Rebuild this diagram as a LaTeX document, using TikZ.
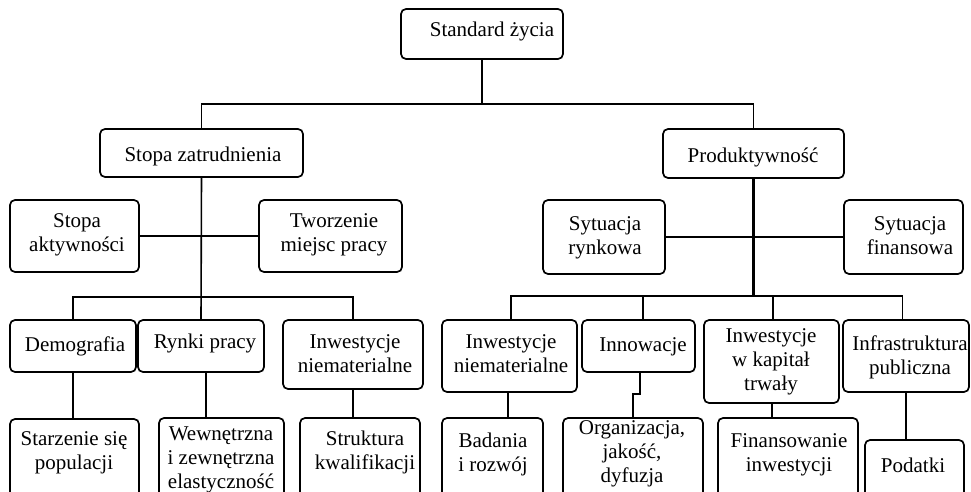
\documentclass[tikz,border=0pt]{standalone}
\usepackage{fontspec}
\setmainfont{Liberation Serif}
\newcommand\bx[8]{%
  \node[box, minimum width={(#4-#2)*1pt}, minimum height={(#5-#3)*1pt}] (#1) at ({(#2+#4)/2},{(#3+#5)/2}) {};
  \node[txt] (#1t) at (#6,#7) {#8};}
\tikzset{
  box/.style={draw, rounded corners=5pt, line width=1.7pt, inner sep=0pt, outer sep=0pt, fill=white},
  txt/.style={font=\fontsize{21}{24}\selectfont, align=center, inner sep=0pt,
    execute at begin node=\strut, execute at end node=\strut},
  conn/.style={line width=1.6pt},
}
\begin{document}
\begin{tikzpicture}[x=1pt,y=-1pt]
\useasboundingbox (0,0) rectangle (971,492);
\clip (0,0) rectangle (971,492);
% boxes
\bx{std}{401}{9}{563}{59}{492}{32.2}{Standard życia}
\bx{sz}{100}{129}{303}{177}{203}{157}{Stopa zatrudnienia}
\bx{prod}{663}{129}{844}{178}{753}{158}{Produktywność}
\bx{sa}{10}{200}{139}{272}{77}{236}{Stopa\\aktywności}
\bx{tmp}{259}{200}{402}{272}{334}{236}{Tworzenie\\miejsc pracy}
\bx{sr}{543}{200}{665}{274}{605}{239}{Sytuacja\\rynkowa}
\bx{sf}{844}{200}{963}{274}{910}{239}{Sytuacja\\finansowa}
\bx{demo}{10}{320}{136}{372}{75}{347}{Demografia}
\bx{rp}{138}{320}{264}{372}{205}{344}{Rynki pracy}
\bx{inL}{283}{320}{423}{389}{355}{356.7}{Inwestycje\\niematerialne}
\bx{inR}{442}{320}{577}{392}{511}{356.7}{Inwestycje\\niematerialne}
\bx{inn}{582}{320}{695}{372}{643}{347}{Innowacje}
\bx{ikt}{704}{320}{839}{403}{771}{362.7}{Inwestycje\\w kapitał\\trwały}
\bx{ip}{843}{320}{969}{392}{910}{358.7}{Infrastruktura\\publiczna}
\bx{star}{10}{419}{139}{515}{74}{453.7}{Starzenie się\\populacji}
\bx{wew}{159}{418}{284}{515}{221}{461}{Wewnętrzna\\i zewnętrzna\\elastyczność}
\bx{str}{300}{418}{420}{515}{365}{453.7}{Struktura\\kwalifikacji}
\bx{bad}{442}{418}{543}{515}{493}{456.2}{Badania\\i rozwój}
\bx{org}{563}{418}{703}{515}{632}{455.2}{Organizacja,\\jakość,\\dyfuzja}
\bx{fin}{718}{418}{858}{515}{789}{456.2}{Finansowanie\\inwestycji}
\bx{pod}{865}{440}{964}{515}{913}{467.2}{Podatki}
% junctions
\coordinate (j1) at (482,104);
\coordinate (j2) at (201.5,297);
\coordinate (j3) at (753.5,296);
\coordinate (e1) at (634,394);
% connectors
\draw[conn] (std.south) -- (j1);
\draw[conn] (sz.north) |- (j1) -| (prod.north);
\draw[conn] (sz.south) -- (rp.north);
\draw[conn] (sa) -- (tmp);
\draw[conn] (demo.north) |- (j2) -| (inL.north);
\draw[conn] (demo.south) -- (demo.south |- star.north);
\draw[conn] ([xshift=5]rp.south) -- ([xshift=5]rp.south |- wew.north);
\draw[conn] (inL.south) -- (inL.south |- str.north);
\draw[conn, line width=2.6pt] (prod.south) -- (j3);
\draw[conn] (sr) -- (sf);
\draw[conn] ([xshift=1.5]inR.north) |- (j3) -| ([xshift=-3.5]ip.north);
\draw[conn] ([xshift=4.5]inn.north) -- ([xshift=4.5]inn.north |- j3);
\draw[conn] ([xshift=1.5]ikt.north) -- ([xshift=1.5]ikt.north |- j3);
\draw[conn] ([xshift=-1.5]inR.south) -- ([xshift=-1.5]inR.south |- bad.north);
\draw[conn] ([xshift=1.5]inn.south) |- (e1) -| (org.north);
\draw[conn] ([xshift=0.5]ikt.south) -- ([xshift=0.5]ikt.south |- fin.north);
\draw[conn] (ip.south) -- (ip.south |- pod.north);
\end{tikzpicture}
\end{document}
